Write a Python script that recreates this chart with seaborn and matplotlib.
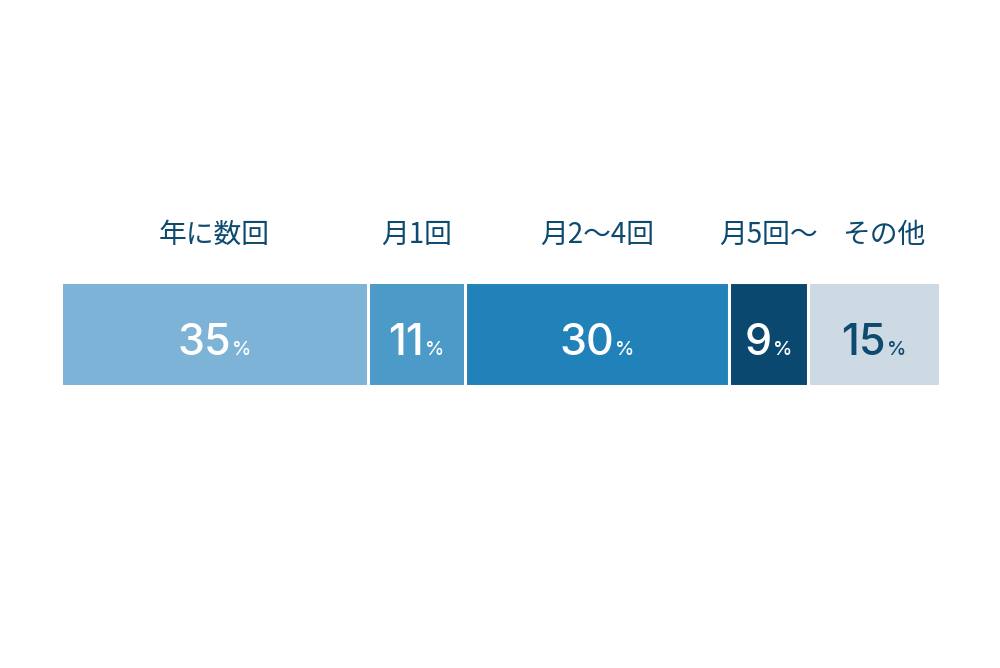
import matplotlib
matplotlib.use("Agg")
import matplotlib.pyplot as plt
import matplotlib.transforms as mtransforms
import seaborn as sns
import numpy as np

# データ
categories = ["年に数回", "月1回", "月2～4回", "月5回～", "その他"]
values = [35, 11, 30, 9, 15]
colors = ["#7db3d6", "#4b9ac8", "#2182b9", "#0b4870", "#cdd9e3"]
num_colors = ["white", "white", "white", "white", "#0d4a70"]
label_color = "#0d4a70"
label_shift = [0, 0, 0, 0, 10]  # px、最後のラベルだけ少し右へ

sns.set_theme(style="white")
plt.rcParams["font.family"] = ["Noto Sans CJK JP", "DejaVu Sans"]

fig = plt.figure(figsize=(10, 6.68), dpi=100)
ax = fig.add_axes([0.0605, 0.4228, 0.879, 0.1544])

cum = np.cumsum(values)
starts = cum - np.array(values)

# 積み上げ：累積値を大きい順に重ねて描く
for i in range(len(values) - 1, -1, -1):
    sns.barplot(x=[cum[i]], y=["all"], orient="h", color=colors[i],
                saturation=1, width=1.0, edgecolor="white", linewidth=2.2,
                ax=ax)

ax.set_xlim(0, 100)
ax.set_ylim(0.5, -0.5)
ax.axis("off")

renderer = fig.canvas.get_renderer()
trans = mtransforms.blended_transform_factory(ax.transData, ax.transAxes)

for i, (cat, v) in enumerate(zip(categories, values)):
    cx = starts[i] + v / 2
    # カテゴリ名
    ax.annotate(cat, (cx, 1.46), xycoords=trans,
                xytext=(label_shift[i] * 0.72, 0), textcoords="offset points",
                ha="center", va="center", fontsize=20, color=label_color)
    # 数値 + %
    t_num = ax.text(0, 0, str(v), fontsize=31, color=num_colors[i],
                    family=["Inter", "DejaVu Sans"], fontweight="medium")
    t_pct = ax.text(0, 0, "%", fontsize=14, color=num_colors[i],
                    family=["Inter", "DejaVu Sans"], fontweight="medium")
    w_num = t_num.get_window_extent(renderer).width
    w_pct = t_pct.get_window_extent(renderer).width
    gap = 1
    total = w_num + w_pct + gap
    px = ax.transData.transform((cx, 0))[0]
    left_px = px - total / 2
    x_num = ax.transData.inverted().transform((left_px, 0))[0]
    x_pct = ax.transData.inverted().transform((left_px + w_num + gap, 0))[0]
    for t, x in ((t_num, x_num), (t_pct, x_pct)):
        t.set_position((x, 0.30))
        t.set_transform(trans)
        t.set_va("baseline")

fig.savefig("out.png", dpi=100, facecolor="white")
